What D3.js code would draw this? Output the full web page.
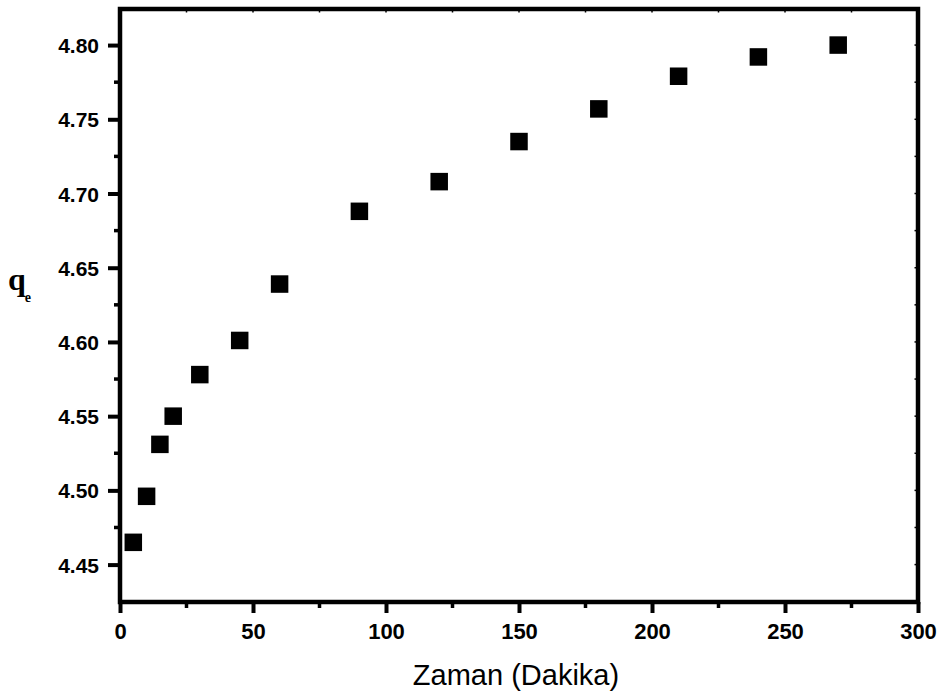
<!DOCTYPE html>
<html>
<head>
<meta charset="utf-8">
<script src="https://cdn.jsdelivr.net/npm/d3@7"></script>
<style>
  html, body { margin: 0; padding: 0; background: #fff; }
  svg { display: block; }
</style>
</head>
<body>
<svg id="chart" width="941" height="695"></svg>
<script>
const timeMin = [5, 10, 15, 20, 30, 45, 60, 90, 120, 150, 180, 210, 240, 270];
const qeValues = [4.465, 4.496, 4.531, 4.550, 4.578, 4.601, 4.639, 4.688, 4.708, 4.735, 4.757, 4.779, 4.792, 4.800];
const xTickValues = [0, 50, 100, 150, 200, 250, 300];
const yTickValues = [4.45, 4.50, 4.55, 4.60, 4.65, 4.70, 4.75, 4.80];
const xMinorTicks = [25, 75, 125, 175, 225, 275];
const yMinorTicks = [4.475, 4.525, 4.575, 4.625, 4.675, 4.725, 4.775];

const svg = d3.select("#chart");
const L = 120, R = 918, T = 9, B = 602;

const x = d3.scaleLinear().domain([0, 300]).range([L, R]);
const y = d3.scaleLinear().domain([4.4248, 4.8243]).range([B, T]);

const fontSans = "Liberation Sans, Arial, sans-serif";

// frame
svg.append("rect").attr("x", L).attr("y", T).attr("width", R - L).attr("height", B - T)
  .attr("fill", "none").attr("stroke", "#000").attr("stroke-width", 4.5);

// bottom axis
const xAxis = d3.axisBottom(x).tickValues(xTickValues).tickFormat(d3.format("d"))
  .tickSize(11).tickPadding(4);
const gx = svg.append("g").attr("transform", `translate(0,${B})`).call(xAxis);
gx.select(".domain").remove();
gx.selectAll(".tick line").attr("stroke", "#000").attr("stroke-width", 4);
gx.selectAll(".tick text").attr("font-family", fontSans).attr("font-weight", "bold")
  .attr("font-size", 22).attr("fill", "#000").attr("y", 37).attr("dy", 0);
svg.append("g").selectAll("line").data(xMinorTicks).join("line")
  .attr("x1", d => x(d)).attr("x2", d => x(d)).attr("y1", B).attr("y2", B + 6)
  .attr("stroke", "#000").attr("stroke-width", 3.5);

// left axis
const yAxis = d3.axisLeft(y).tickValues(yTickValues).tickFormat(d3.format(".2f"))
  .tickSize(12).tickPadding(9);
const gy = svg.append("g").attr("transform", `translate(${L},0)`).call(yAxis);
gy.select(".domain").remove();
gy.selectAll(".tick line").attr("stroke", "#000").attr("stroke-width", 4);
gy.selectAll(".tick text").attr("font-family", fontSans).attr("font-weight", "bold")
  .attr("font-size", 21).attr("fill", "#000").attr("dy", "0.36em");
svg.append("g").selectAll("line").data(yMinorTicks).join("line")
  .attr("x1", L).attr("x2", L - 6).attr("y1", d => y(d)).attr("y2", d => y(d))
  .attr("stroke", "#000").attr("stroke-width", 3.5);

// faint inward ticks on top and right
const allX = xTickValues.concat(xMinorTicks).filter(d => d > 0 && d < 300);
svg.append("g").selectAll("line").data(allX).join("line")
  .attr("x1", d => x(d)).attr("x2", d => x(d)).attr("y1", T).attr("y2", T + 3.5)
  .attr("stroke", "#000").attr("stroke-width", 1.5);
const allY = yTickValues.concat(yMinorTicks);
svg.append("g").selectAll("line").data(allY).join("line")
  .attr("x1", R).attr("x2", R - 3.5).attr("y1", d => y(d)).attr("y2", d => y(d))
  .attr("stroke", "#000").attr("stroke-width", 1.5);

// points
const s = 17.5;
svg.append("g").selectAll("rect").data(timeMin.map((t, i) => ({t, q: qeValues[i]}))).join("rect")
  .attr("x", d => x(d.t) - s / 2).attr("y", d => y(d.q) - s / 2)
  .attr("width", s).attr("height", s).attr("fill", "#000");

// axis titles
svg.append("text").attr("x", 516).attr("y", 685).attr("text-anchor", "middle")
  .attr("font-family", fontSans).attr("font-size", 29)
  .attr("fill", "#000").text("Zaman (Dakika)");

const yt = svg.append("text").attr("x", 8).attr("y", 290)
  .attr("font-family", "Liberation Serif, Times New Roman, serif").attr("font-weight", "bold")
  .attr("fill", "#000");
yt.append("tspan").attr("font-size", 32).text("q");
yt.append("tspan").attr("font-size", 14).attr("dx", -1).attr("dy", 12).text("e");
</script>
</body>
</html>
